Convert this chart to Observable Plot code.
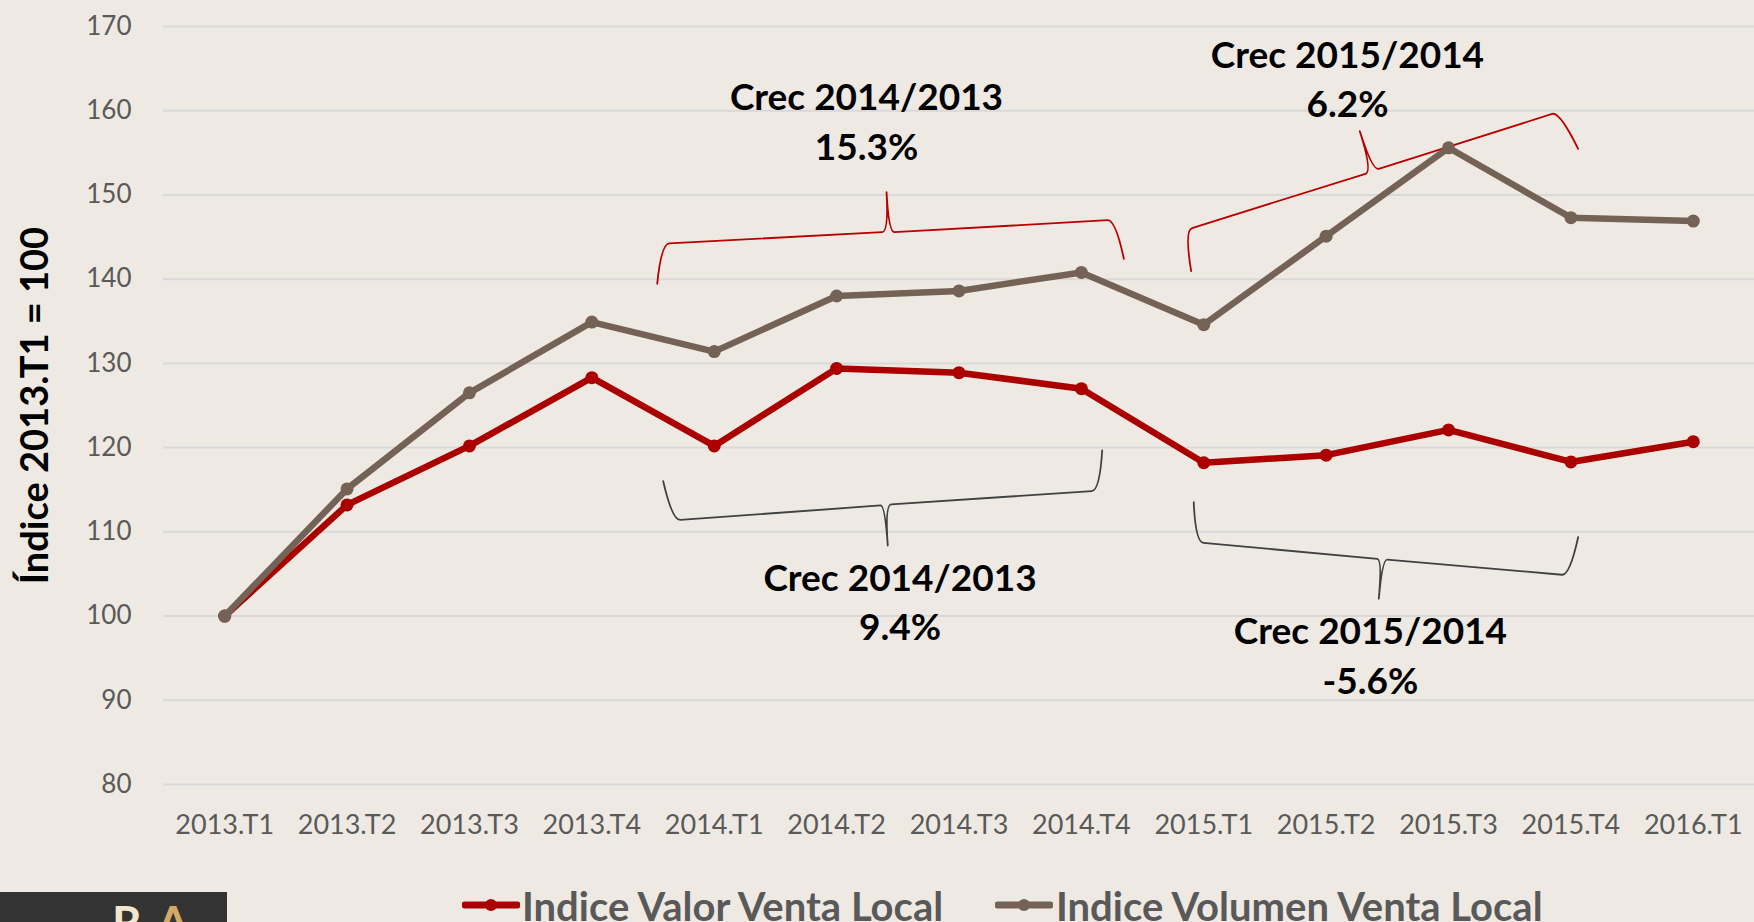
<!DOCTYPE html>
<html>
<head>
<meta charset="utf-8">
<script src="https://cdn.jsdelivr.net/npm/d3@7"></script>
<script src="https://cdn.jsdelivr.net/npm/@observablehq/plot@0.6"></script>
<style>
  html, body { margin: 0; padding: 0; background: #EEEAE3; }
  #wrap { position: relative; width: 1754px; height: 922px; overflow: hidden; background: #EEEAE3; font-family: Lato, "Open Sans", sans-serif; }
  #chart { position: absolute; left: 0; top: 0; }
  .leg-text { position: absolute; font-weight: 700; font-size: 40px; line-height: 40px; color: #595959; white-space: nowrap; }
  .leg-sw { position: absolute; }
  #logo { position: absolute; left: 0; top: 892px; width: 227px; height: 30px; background: #333333; overflow: hidden; }
  #logo span { position: absolute; top: 7px; font-family: Lato, sans-serif; font-weight: 700; font-size: 46px; line-height: 46px; }
</style>
</head>
<body>
<div id="wrap">
  <div id="chart"></div>
  <div id="legend"></div>
  <div id="logo"><span style="left:112px;color:#F2E6CC">R</span><span style="left:157px;color:#D3A965">A</span></div>
</div>
<script>
// ---- Data ----
const categories = ["2013.T1","2013.T2","2013.T3","2013.T4","2014.T1","2014.T2","2014.T3","2014.T4","2015.T1","2015.T2","2015.T3","2015.T4","2016.T1"];
const valor   = [100, 113.2, 120.2, 128.3, 120.2, 129.4, 128.9, 127.0, 118.2, 119.1, 122.1, 118.3, 120.7];
const volumen = [100, 115.1, 126.5, 134.9, 131.4, 138.0, 138.6, 140.8, 134.6, 145.1, 155.6, 147.3, 146.9];
const yTicks = [80, 90, 100, 110, 120, 130, 140, 150, 160, 170];
const seriesNames = ["Indice Valor Venta Local", "Indice Volumen Venta Local"];
const yLabel = "Índice 2013.T1 = 100";

// annotation labels anchored in data units (category index, index value)
const annotations = [
  {i: 5.244, v: 154.1, label: "Crec 2014/2013\n15.3%"},
  {i: 9.174, v: 159.2, label: "Crec 2015/2014\n6.2%"},
  {i: 5.518, v: 97.1,  label: "Crec 2014/2013\n9.4%"},
  {i: 9.362, v: 90.8,  label: "Crec 2015/2014\n-5.6%"}
];
// curly braces: end, corner, centre-left, tip, centre-right, corner, end (data units)
const braceValor2014 = [[3.534,139.45],[3.567,144.20],[5.372,145.58],[5.408,150.33],[5.473,145.58],[7.279,147.05],[7.347,142.42]];
const braceValor2015 = [[7.897,140.95],[7.842,145.78],[9.321,152.51],[9.275,157.57],[9.430,153.10],[10.909,159.91],[11.059,155.48]];
const braceVol2014   = [[3.583,116.01],[3.657,111.35],[5.359,113.13],[5.418,108.38],[5.446,113.25],[7.150,114.91],[7.170,119.66]];
const braceVol2015   = [[7.918,113.52],[7.932,108.77],[9.417,106.80],[9.430,102.05],[9.499,106.71],[10.991,104.82],[11.059,109.36]];

// ---- Styles ----
const RED = "#AA0000", BROWN = "#746256", GRID = "#D9D9D9";

const rows = (arr) => arr.map((v, i) => ({i, v}));
const braceRows = (list) => list.flatMap((b, id) => b.map(([i, v]) => ({id, i, v})));

function braceCurve(ctx) {
  let p = [];
  return {
    areaStart() {}, areaEnd() {},
    lineStart() { p = []; },
    point(x, y) { p.push([+x, +y]); },
    lineEnd() {
      if (p.length !== 7) { p.forEach((q, k) => k ? ctx.lineTo(q[0], q[1]) : ctx.moveTo(q[0], q[1])); return; }
      const [p0, p1, p2, p3, p4, p5, p6] = p;
      const dx = p5[0] - p1[0], dy = p5[1] - p1[1], L = Math.hypot(dx, dy);
      const u = [dx / L, dy / L];
      const r = 8;
      const c1 = [p1[0] + u[0] * r, p1[1] + u[1] * r];
      const c5 = [p5[0] - u[0] * r, p5[1] - u[1] * r];
      const t2 = (p3[0] - p2[0]) * u[0] + (p3[1] - p2[1]) * u[1];
      const k2 = [p2[0] + u[0] * t2, p2[1] + u[1] * t2];
      const t4 = (p3[0] - p4[0]) * u[0] + (p3[1] - p4[1]) * u[1];
      const k4 = [p4[0] + u[0] * t4, p4[1] + u[1] * t4];
      ctx.moveTo(p0[0], p0[1]);
      ctx.quadraticCurveTo(p1[0], p1[1], c1[0], c1[1]);
      ctx.lineTo(p2[0], p2[1]);
      ctx.quadraticCurveTo(k2[0], k2[1], p3[0], p3[1]);
      ctx.quadraticCurveTo(k4[0], k4[1], p4[0], p4[1]);
      ctx.lineTo(c5[0], c5[1]);
      ctx.quadraticCurveTo(p5[0], p5[1], p6[0], p6[1]);
    }
  };
}

const chart = Plot.plot({
  width: 1754,
  height: 870,
  marginLeft: 163,
  marginRight: 0,
  marginTop: 26,
  marginBottom: 86,
  style: {fontFamily: "Lato, 'Open Sans', sans-serif", color: "#595959", background: "transparent", overflow: "visible"},
  x: {domain: [-0.5, categories.length - 0.5]},
  y: {domain: [80, 170]},
  marks: [
    Plot.ruleY(yTicks, {stroke: GRID, strokeWidth: 2}),
    Plot.axisY({ticks: yTicks, tickSize: 0, tickPadding: 32, fontSize: 26, label: null}),
    Plot.axisX({ticks: d3.range(categories.length), tickFormat: (i) => categories[i], tickSize: 0, tickPadding: 30, fontSize: 27, label: null}),
    Plot.text([yLabel], {text: (d) => d, frameAnchor: "left", dx: -116, rotate: -90, lineAnchor: "bottom", textAnchor: "middle", fontSize: 38, fontWeight: "bold", fill: "black"}),
    Plot.line(braceRows([braceValor2014, braceValor2015]), {x: "i", y: "v", z: "id", stroke: "#B80000", strokeWidth: 1.8, curve: braceCurve}),
    Plot.line(braceRows([braceVol2014, braceVol2015]), {x: "i", y: "v", z: "id", stroke: "#404040", strokeWidth: 1.8, curve: braceCurve}),
    Plot.line(rows(valor), {x: "i", y: "v", stroke: RED, strokeWidth: 6.5, strokeLinejoin: "round"}),
    Plot.dot(rows(valor), {x: "i", y: "v", r: 6.5, fill: RED}),
    Plot.line(rows(volumen), {x: "i", y: "v", stroke: BROWN, strokeWidth: 6.5, strokeLinejoin: "round"}),
    Plot.dot(rows(volumen), {x: "i", y: "v", r: 6.5, fill: BROWN}),
    Plot.text(annotations, {x: "i", y: "v", text: "label", lineAnchor: "bottom", lineHeight: 1.35, fontSize: 37, fontWeight: "bold", fill: "black", textAnchor: "middle"})
  ]
});
document.getElementById("chart").appendChild(chart);

// ---- Legend (below the SVG) ----
const legend = document.getElementById("legend");
const legendItems = [
  {name: seriesNames[0], color: RED, swLeft: 462, textLeft: 522},
  {name: seriesNames[1], color: BROWN, swLeft: 995, textLeft: 1056}
];
for (const it of legendItems) {
  const sw = document.createElementNS("http://www.w3.org/2000/svg", "svg");
  sw.setAttribute("class", "leg-sw");
  sw.setAttribute("width", 58); sw.setAttribute("height", 16);
  sw.style.left = it.swLeft + "px"; sw.style.top = "897px";
  sw.innerHTML = `<line x1="3" y1="8" x2="55" y2="8" stroke="${it.color}" stroke-width="7" stroke-linecap="round"/><circle cx="29" cy="8" r="6" fill="${it.color}"/>`;
  legend.appendChild(sw);
  const t = document.createElement("div");
  t.className = "leg-text";
  t.textContent = it.name;
  t.style.left = it.textLeft + "px"; t.style.top = "886px";
  legend.appendChild(t);
}
</script>
</body>
</html>
